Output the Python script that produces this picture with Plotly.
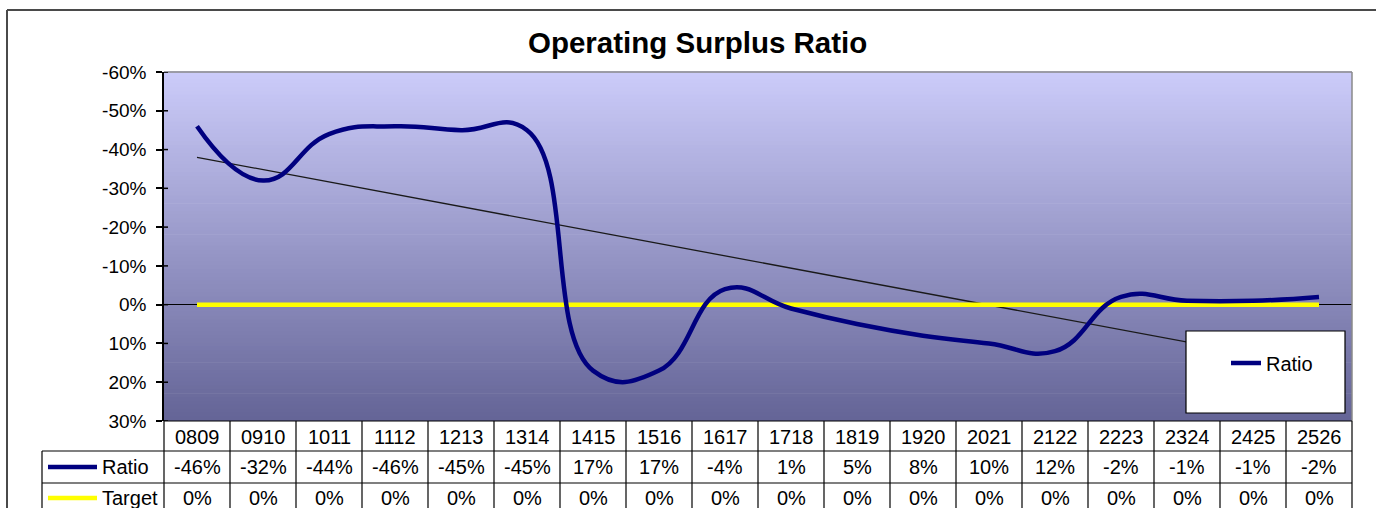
import numpy as np
import plotly.graph_objects as go

# ---------------- data ----------------
categories = ["0809", "0910", "1011", "1112", "1213", "1314", "1415", "1516", "1617",
              "1718", "1819", "1920", "2021", "2122", "2223", "2324", "2425", "2526"]
ratio = [-46, -32, -44, -46, -45, -45, 17, 17, -4, 1, 5, 8, 10, 12, -2, -1, -1, -2]
target = [0] * 18
y_ticks = [-60, -50, -40, -30, -20, -10, 0, 10, 20, 30]
y_ticktext = ["-60%", "-50%", "-40%", "-30%", "-20%", "-10%", "0%", "10%", "20%", "30%"]
title_text = "Operating Surplus Ratio"

# ---------------- styles ----------------
FONT = "Liberation Sans, Arial, sans-serif"
FS = 19
FS_TBL = 20
NAVY = "#00007f"
YELLOW = "#ffff00"
W, H = 1376, 508
ML, MR, MT, MB = 164, 24, 72, 87
PW = W - ML - MR
PH = H - MT - MB


def px_to_py(py):
    """pixel y -> paper y"""
    return (H - MB - py) / PH


def px_to_px(px):
    """pixel x -> paper x"""
    return (px - ML) / PW


n = len(categories)
idx = np.arange(n)
slope, intercept = np.polyfit(idx, np.array(ratio, dtype=float), 1)
trend = slope * idx + intercept

fig = go.Figure()

fig.add_trace(go.Scatter(
    x=categories, y=trend, mode="lines", showlegend=False, hoverinfo="skip",
    line=dict(color="#1a1a1a", width=1.3),
))
fig.add_trace(go.Scatter(
    x=categories, y=target, mode="lines", name="Target", showlegend=False,
    line=dict(color=YELLOW, width=4.5),
))
fig.add_trace(go.Scatter(
    x=categories, y=ratio, mode="lines", name="Ratio",
    line=dict(color=NAVY, width=4.5, shape="spline", smoothing=1.3),
))

shapes = []
# gradient background of plot area
N = 90
top_c = np.array([204, 204, 250])
bot_c = np.array([100, 100, 150])
for k in range(N):
    t = (k + 0.5) / N
    c = top_c + (bot_c - top_c) * t
    shapes.append(dict(type="rect", xref="paper", yref="paper",
                       x0=0, x1=1, y0=1 - (k + 1) / N, y1=1 - k / N + 0.002,
                       fillcolor="rgb(%d,%d,%d)" % tuple(c.round()),
                       line=dict(width=0), layer="below"))
# plot area border (top/right gray)
shapes.append(dict(type="line", xref="paper", yref="paper", x0=0, x1=1, y0=1, y1=1,
                   line=dict(color="#8a8a8a", width=1.5)))
shapes.append(dict(type="line", xref="paper", yref="paper", x0=1, x1=1, y0=0, y1=1,
                   line=dict(color="#8a8a8a", width=1.5)))

# outer chart border
shapes.append(dict(type="line", xref="paper", yref="paper",
                   x0=px_to_px(7), x1=px_to_px(W + 5), y0=px_to_py(10), y1=px_to_py(10),
                   line=dict(color="#4a4a4a", width=2)))
shapes.append(dict(type="line", xref="paper", yref="paper",
                   x0=px_to_px(7), x1=px_to_px(7), y0=px_to_py(10), y1=px_to_py(H + 5),
                   line=dict(color="#4a4a4a", width=2)))

# legend box
shapes.append(dict(type="rect", xref="paper", yref="paper",
                   x0=px_to_px(1186), x1=px_to_px(1345), y0=px_to_py(413), y1=px_to_py(331),
                   fillcolor="white", line=dict(color="black", width=1.2), layer="above"))

# data table grid
row_lines = [421, 451, 483]
tbl_bottom = H + 5
for r, yy in enumerate(row_lines):
    x0 = 0 if r == 0 else px_to_px(42)
    shapes.append(dict(type="line", xref="paper", yref="paper", x0=x0, x1=1,
                       y0=px_to_py(yy), y1=px_to_py(yy), line=dict(color="black", width=1.2)))
for i in range(n + 1):
    xb = i / n
    shapes.append(dict(type="line", xref="paper", yref="paper", x0=xb, x1=xb,
                       y0=px_to_py(421), y1=px_to_py(tbl_bottom),
                       line=dict(color="black", width=1.2)))
shapes.append(dict(type="line", xref="paper", yref="paper", x0=px_to_px(42), x1=px_to_px(42),
                   y0=px_to_py(451), y1=px_to_py(tbl_bottom), line=dict(color="black", width=1.2)))
# tick crossing parts (Excel "cross" tick marks)
for tv in y_ticks:
    shapes.append(dict(type="line", xref="paper", yref="y", x0=0, x1=px_to_px(168),
                       y0=tv, y1=tv, line=dict(color="black", width=1.5)))
# legend keys in table
shapes.append(dict(type="line", xref="paper", yref="paper", x0=px_to_px(48), x1=px_to_px(97),
                   y0=px_to_py(467), y1=px_to_py(467), line=dict(color=NAVY, width=4.5)))
shapes.append(dict(type="line", xref="paper", yref="paper", x0=px_to_px(48), x1=px_to_px(97),
                   y0=px_to_py(498), y1=px_to_py(498), line=dict(color=YELLOW, width=4.5)))

annotations = [dict(text="<b>%s</b>" % title_text, xref="paper", yref="paper",
                    x=px_to_px(697), y=px_to_py(43), showarrow=False,
                    font=dict(size=29.5, color="black", family=FONT),
                    xanchor="center", yanchor="middle")]


def pct(v):
    return "%d%%" % v


row_y = [437, 467, 498]
for i, cat in enumerate(categories):
    for yy, txt in zip(row_y, [cat, pct(ratio[i]), pct(target[i])]):
        annotations.append(dict(text=txt, xref="x", yref="paper", x=i, y=px_to_py(yy),
                                showarrow=False, xanchor="center", yanchor="middle",
                                font=dict(size=FS_TBL, color="black", family=FONT)))
for yy, txt in zip(row_y[1:], ["Ratio", "Target"]):
    annotations.append(dict(text=txt, xref="paper", yref="paper", x=px_to_px(100), y=px_to_py(yy),
                            showarrow=False, xanchor="left", yanchor="middle",
                            font=dict(size=FS_TBL, color="black", family=FONT)))

fig.update_layout(
    width=W, height=H,
    margin=dict(l=ML, r=MR, t=MT, b=MB, pad=0),
    paper_bgcolor="white", plot_bgcolor="white",
    font=dict(family=FONT, size=FS, color="black"),
    shapes=shapes, annotations=annotations,
    showlegend=True,
    legend=dict(x=px_to_px(1226), y=px_to_py(363), xanchor="left", yanchor="middle",
                bgcolor="rgba(0,0,0,0)", borderwidth=0,
                font=dict(size=FS_TBL, color="black", family=FONT)),
    xaxis=dict(type="category", range=[-0.5, n - 0.5], showgrid=False, zeroline=False,
               showticklabels=False, ticks="", showline=False, fixedrange=True),
    yaxis=dict(range=[30, -60], tickvals=y_ticks, ticktext=y_ticktext, showgrid=False,
               zeroline=True, zerolinecolor="black", zerolinewidth=1.2,
               showline=True, linecolor="black", linewidth=1.5,
               ticks="outside", ticklen=6, tickwidth=1.5, tickcolor="black",
               ticklabelstandoff=6, fixedrange=True,
               tickfont=dict(size=FS, color="black", family=FONT)),
)

fig.write_html("out.html")
